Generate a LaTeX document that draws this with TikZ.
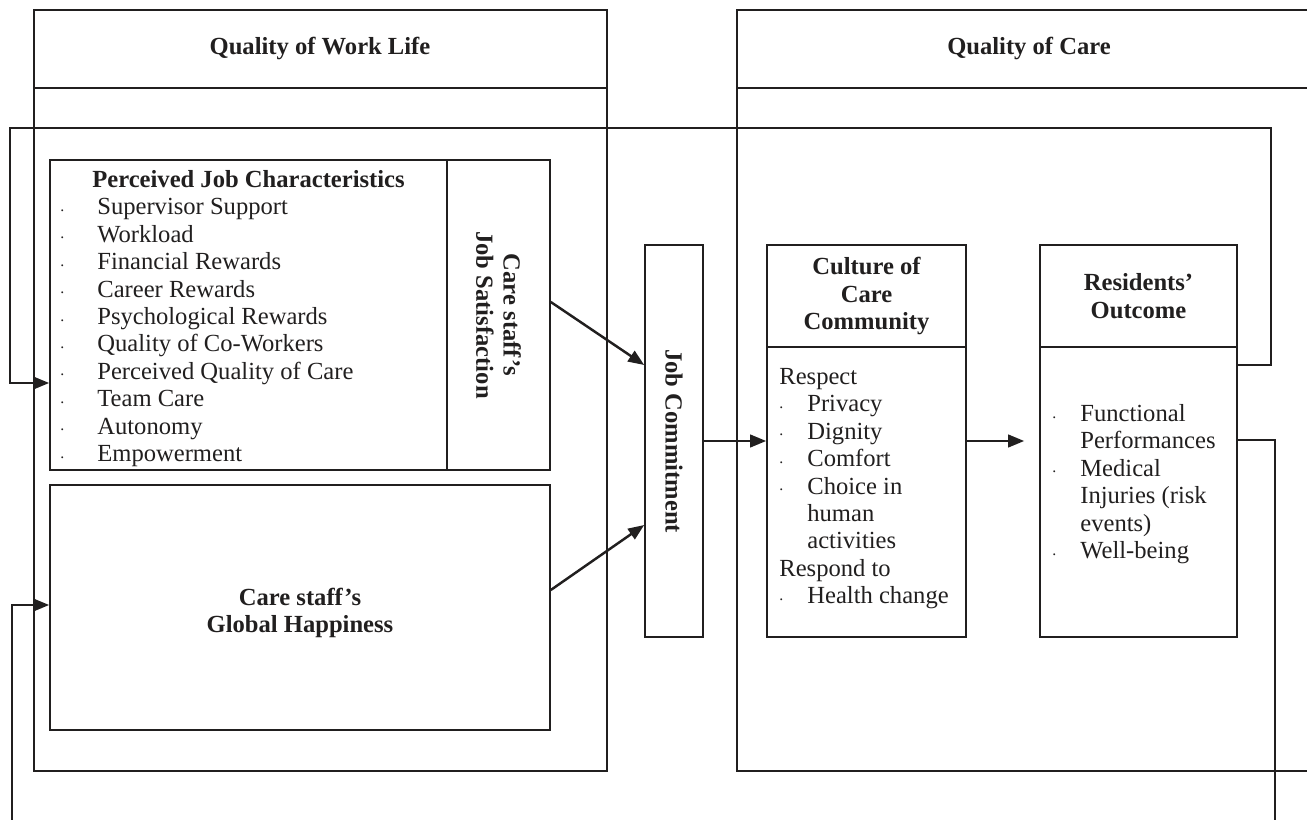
\documentclass[tikz,border=0pt]{standalone}
\usepackage{fontspec}
\setmainfont{Liberation Serif}
\usetikzlibrary{arrows.meta,fit,positioning,calc}
\definecolor{ink}{rgb}{0.13,0.12,0.12}
% small low dot in front of list items
\newcommand{\itm}[1][0.74cm]{\makebox[#1][l]{\raisebox{0.3ex}{\small .}}}
\tikzset{
  box/.style={draw=ink, line width=0.9pt, inner sep=0pt},
  frame/.style={draw=ink, line width=0.9pt},
  link/.style={draw=ink, line width=1.4pt},
  flow/.style={link, -{Triangle[length=0.32cm,width=0.25cm]}},
  txt/.style={inner sep=0pt, text=ink, font=\fontsize{14}{15.6}\selectfont},
  head/.style={txt, font=\fontsize{14}{15.6}\selectfont\bfseries, align=center},
}
\begin{document}
\begin{tikzpicture}[x=0.02cm, y=-0.02cm]
    \useasboundingbox (0,0) rectangle (1307,820);
    % left panel
    \draw[frame] (34,10) rectangle (607,88);
    \draw[frame] (34,88) rectangle (607,771);
    % right panel, open to the right
    \draw[frame] (1307,10) -- (737,10) -- (737,771) -- (1307,771);
    \draw[frame] (737,88) -- (1307,88);
    \node[head] (qwl) at (320,49) {Quality of Work Life};
    \node[head] (qoc) at (1029,49) {Quality of Care};

    % boxes
    \node[box, fit={(50,160) (447,470)}] (pjc) {};
    \node[box, fit={(447,160) (550,470)}] (sat) {};
    \node[box, fit={(50,485) (550,730)}] (ghap) {};
    \node[box, fit={(645,245) (703,637)}] (jc) {};
    \node[box, fit={(767,245) (966,637)}] (cul) {};
    \node[box, fit={(1040,245) (1237,637)}] (res) {};
    \draw[frame] (cul.west |- 0,347) -- (cul.east |- 0,347);
    \draw[frame] (res.west |- 0,347) -- (res.east |- 0,347);

    % titles
    \node[head, rotate=-90] (sattxt) at (sat.center) {Care staff’s\\Job Satisfaction};
    \node[head, rotate=-90] (jctxt) at (jc.center) {Job Commitment};
    \node[head] (ghaptxt) at ([yshift=-3pt]ghap.center) {Care staff’s\\Global Happiness};
    \node[head] (cultxt) at (cul.north |- 0,296) {Culture of\\Care\\Community};
    \node[head] (restxt) at (res.north |- 0,296) {Residents’\\Outcome};

    % lists
    \node[txt, anchor=north west, align=left] (pjclist) at (60,170) {%
        \hspace*{0.64cm}\textbf{Perceived Job Characteristics}\\
        \itm Supervisor Support\\
        \itm Workload\\
        \itm Financial Rewards\\
        \itm Career Rewards\\
        \itm Psychological Rewards\\
        \itm Quality of Co-Workers\\
        \itm Perceived Quality of Care\\
        \itm Team Care\\
        \itm Autonomy\\
        \itm Empowerment};
    \node[txt, anchor=north west, align=left] (cullist) at (779,368) {%
        Respect\\
        \itm[0.56cm]Privacy\\
        \itm[0.56cm]Dignity\\
        \itm[0.56cm]Comfort\\
        \itm[0.56cm]Choice in\\
        \hspace*{0.56cm}human\\
        \hspace*{0.56cm}activities\\
        Respond to\\
        \itm[0.56cm]Health change};
    \node[txt, anchor=north west, align=left] (reslist) at (1052,404) {%
        \itm[0.56cm]Functional\\
        \hspace*{0.56cm}Performances\\
        \itm[0.56cm]Medical\\
        \hspace*{0.56cm}Injuries (risk\\
        \hspace*{0.56cm}events)\\
        \itm[0.56cm]Well-being};

    % arrows
    \draw[flow] (sat.east |- 0,302) -- (jc.west |- 0,365);
    \draw[flow] (ghap.east |- 0,590) -- (jc.west |- 0,525);
    \draw[flow] (jc) -- (cul);
    \draw[flow, shorten >=0.3cm] (cul) -- (res);

    % feedback loops
    \draw[flow] (res.east |- 0,365) -- (1271,365) |- (10,128) |- (pjc.west |- 0,383);
    \draw[flow] (12,820) |- (ghap.west |- 0,605);
    \draw[link] (res.east |- 0,440) -| (1275,820);
\end{tikzpicture}
\end{document}
